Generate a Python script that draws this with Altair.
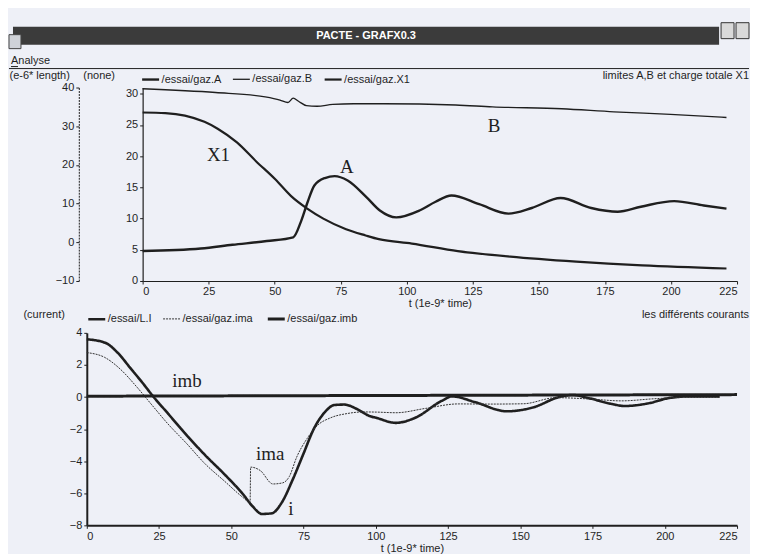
import altair as alt
import pandas as pd

top_series = ["/essai/gaz.A", "/essai/gaz.B", "/essai/gaz.X1"]
A_t = [0, 22, 34, 47, 57, 60, 62.5, 65, 69, 72.7, 77.6, 84.8, 89.8, 96, 104.8, 110.9,
       116.9, 127.4, 138.5, 147.3, 158.2, 169.8, 179.8, 188.6, 201.2, 212.4, 221]
A_v = [4.8, 5.2, 5.8, 6.4, 7.0, 9.6, 12.7, 15.3, 16.5, 16.8, 16.1, 13.4, 11.3, 10.2, 11.3, 12.7,
       13.7, 12.3, 10.8, 11.7, 13.3, 11.7, 11.1, 11.9, 12.8, 12.1, 11.6]
B_t = [0, 27.6, 46.4, 52, 55, 57, 59, 62, 66, 72, 79.9, 91.2, 118.5, 132.4, 158.6, 178.4, 199.8, 221]
B_v = [30.8, 30.2, 29.5, 29.0, 28.6, 29.3, 28.8, 28.1, 28.0, 28.3, 28.4, 28.4, 28.2, 27.9, 27.6,
       27.1, 26.7, 26.2]
X1_t = [0, 8.6, 16, 23.4, 28.4, 35.7, 42.9, 50.2, 56.2, 62.3, 68.4, 77, 84.4, 89.4, 101.9,
        119.3, 139.2, 164.1, 189.1, 221]
X1_v = [27.0, 26.9, 26.5, 25.5, 24.4, 22.2, 19.2, 16.3, 13.6, 11.6, 10.0, 8.3, 7.3, 6.7, 6.0,
        4.8, 3.9, 3.1, 2.5, 2.0]

bot_series = ["/essai/L.I", "/essai/gaz.ima", "/essai/gaz.imb"]
i_t = [0, 6.4, 10.8, 15.1, 19.4, 22.6, 28.1, 34.6, 41.1, 47.6, 54.1, 57.3, 60.6, 64, 67.5, 71.2,
       74.9, 78.6, 82.2, 85.7, 89.1, 93.5, 97.9, 100.2, 106.9, 113.7, 122.8, 126.4, 134.2, 145.3,
       154.4, 163.5, 168.1, 173.7, 181.6, 186, 193.9, 201.9, 208.7, 219]
i_v = [3.6, 3.38, 2.74, 1.80, 0.86, 0.12, -1.03, -2.39, -3.65, -4.81, -6.07, -6.80, -7.29, -7.25,
       -6.57, -5.17, -3.57, -1.97, -0.98, -0.50, -0.47, -0.75, -1.19, -1.30, -1.61, -1.29, -0.24,
       0.04, -0.31, -0.89, -0.65, 0.0, 0.13, -0.07, -0.43, -0.56, -0.41, -0.05, 0.04, 0.04]
ima_t = [0, 6.2, 11.7, 17.1, 22.5, 27.9, 34.5, 40.9, 47.5, 54.1, 56.5, 56.7, 60, 64.4, 67.8, 70.1,
         72.6, 76.3, 79.8, 84.3, 90.1, 95.7, 100.2, 107, 117.2, 128.5, 139.8, 151.1, 162.4, 173.7,
         185, 196.2, 207.6, 219]
ima_v = [2.77, 2.47, 1.72, 0.67, -0.49, -1.64, -2.89, -4.16, -5.22, -6.27, -6.59, -4.37, -4.58,
         -5.42, -5.35, -4.95, -3.76, -2.57, -1.77, -1.30, -1.03, -0.93, -0.94, -0.98, -0.71, -0.43,
         -0.44, -0.42, -0.04, -0.12, -0.24, -0.11, -0.02, -0.02]
imb_t = [0, 225]
imb_v = [0.05, 0.15]

top_labels = ["X1", "A", "B"]
top_label_t = [28.7, 77.3, 133]
top_label_v = [20.2, 18.2, 24.9]
bot_labels = ["imb", "ima", "i"]
bot_label_t = [34.7, 63.5, 70.6]
bot_label_v = [1.0, -3.57, -6.97]

x_ticks = list(range(0, 226, 25))
top_y_ticks = [0, 5, 10, 15, 20, 25, 30]
extra_y_ticks = [-10, 0, 10, 20, 30, 40]
bot_y_ticks = [-8, -6, -4, -2, 0, 2, 4]

# ---------------- styling ----------------
BG = "#eef0f7"
INK = "#1f1f1f"
UI = "Liberation Sans"
SERIF = "Liberation Serif"
PW = 652            # common panel width (bottom plot width)
TOP_SHIFT = 56      # top plot starts this far right of the bottom plot
TOP_H, BOT_H = 194, 193


def long_df(parts):
    rows = []
    for name, ts, vs in parts:
        for t, v in zip(ts, vs):
            rows.append({"series": name, "t": t, "v": v})
    return pd.DataFrame(rows)


top_df = long_df([(top_series[0], A_t, A_v), (top_series[1], B_t, B_v), (top_series[2], X1_t, X1_v)])
bot_df = long_df([(bot_series[0], i_t, i_v), (bot_series[1], ima_t, ima_v), (bot_series[2], imb_t, imb_v)])
top_lab_df = pd.DataFrame({"label": top_labels, "t": top_label_t, "v": top_label_v})
bot_lab_df = pd.DataFrame({"label": bot_labels, "t": bot_label_t, "v": bot_label_v})
one = pd.DataFrame({"k": [0]})

# ---------------- header (window chrome) ----------------
hdr_title = pd.DataFrame({"label": ["PACTE - GRAFX0.3"]})
header = alt.layer(
    alt.Chart(one).mark_rect(color="#3b3b3b").encode(
        x=alt.value(-74), x2=alt.value(634), y=alt.value(18), y2=alt.value(36)),
    alt.Chart(hdr_title).mark_text(color="white", font=UI, fontSize=11, fontWeight="bold").encode(
        x=alt.value(280), y=alt.value(27), text="label:N"),
    alt.Chart(one).mark_rect(fill="#d9d9d9", stroke="#333333", strokeWidth=1).encode(
        x=alt.value(636), x2=alt.value(649), y=alt.value(14), y2=alt.value(30)),
    alt.Chart(one).mark_rect(fill="#d9d9d9", stroke="#333333", strokeWidth=1).encode(
        x=alt.value(651), x2=alt.value(664), y=alt.value(14), y2=alt.value(30)),
    alt.Chart(one).mark_rect(fill="#cfd2d8", stroke="#444444", strokeWidth=1).encode(
        x=alt.value(-78), x2=alt.value(-66), y=alt.value(26), y2=alt.value(40)),
    alt.Chart(pd.DataFrame({"label": ["Analyse"]})).mark_text(
        align="left", baseline="middle", font=UI, fontSize=11, color=INK).encode(
        x=alt.value(-76), y=alt.value(52), text="label:N"),
    alt.Chart(one).mark_rule(color=INK, strokeWidth=1).encode(
        x=alt.value(-76), x2=alt.value(-69), y=alt.value(58)),
    alt.Chart(one).mark_rule(color=INK, strokeWidth=1).encode(
        x=alt.value(-78), x2=alt.value(664), y=alt.value(60)),
).properties(width=PW, height=60)

# ---------------- top panel ----------------
top_legend = alt.Legend(orient="none", legendX=TOP_SHIFT - 2, legendY=-18, direction="horizontal",
                        columns=3, title=None, symbolType="stroke", symbolSize=289, labelFont=UI,
                        labelFontSize=11, labelColor=INK, columnPadding=8, labelOffset=1, padding=0)

top_xscale = alt.Scale(domain=[0, 225], range=[TOP_SHIFT, PW], nice=False, zero=False)
top_xaxis = alt.Axis(values=x_ticks, title="t (1e-9* time)", tickSize=3, labelPadding=2,
                     titlePadding=1, domainWidth=1.2, titleX=(TOP_SHIFT + PW) / 2)

top_lines = alt.Chart(top_df).mark_line(interpolate="monotone").encode(
    x=alt.X("t:Q", scale=top_xscale, axis=top_xaxis),
    y=alt.Y("v:Q", scale=alt.Scale(domain=[0, 31], nice=False, zero=False),
            axis=alt.Axis(values=top_y_ticks, title="(none)", titleAngle=0, titleAlign="left",
                          titleBaseline="middle", titleX=-60, titleY=-12, tickSize=3,
                          domainWidth=1.2, offset=-TOP_SHIFT, labelOverlap=False)),
    stroke=alt.Stroke("series:N", scale=alt.Scale(domain=top_series, range=[INK, INK, INK]),
                      legend=top_legend),
    strokeWidth=alt.StrokeWidth("series:N",
                                scale=alt.Scale(type="ordinal", domain=top_series, range=[2.4, 1.3, 2.2]),
                                legend=top_legend),
    detail="series:N",
)

extra_axis = alt.Chart(pd.DataFrame({"v": [-10, 40]})).mark_point(opacity=0).encode(
    y=alt.Y("v:Q", scale=alt.Scale(domain=[-10, 40], nice=False, zero=False),
            axis=alt.Axis(orient="left", offset=8, values=extra_y_ticks, title="(e-6* length)",
                          titleAngle=0, titleAlign="left", titleBaseline="middle", titleX=-70,
                          titleY=-12, tickSize=3, domainWidth=1, domainDash=[2, 1],
                          labelOverlap=False)),
)

top_text = alt.Chart(top_lab_df).mark_text(font=SERIF, fontSize=19, color=INK).encode(
    x=alt.X("t:Q", scale=top_xscale, axis=top_xaxis),
    y=alt.Y("v:Q", scale=alt.Scale(domain=[0, 31], nice=False, zero=False), axis=None),
    text="label:N",
)

top_title = alt.Chart(pd.DataFrame({"label": ["limites A,B et charge totale X1"]})).mark_text(
    align="right", baseline="middle", font=UI, fontSize=11, color=INK).encode(
    x=alt.value(664), y=alt.value(-12), text="label:N")

top_panel = alt.layer(top_lines, extra_axis, top_text, top_title).resolve_scale(
    y="independent").properties(width=PW, height=TOP_H)

# ---------------- bottom panel ----------------
bot_legend = alt.Legend(orient="none", legendX=0, legendY=-24, direction="horizontal", columns=3,
                        title=None, symbolType="stroke", symbolSize=289, labelFont=UI,
                        labelFontSize=11, labelColor=INK, columnPadding=8, labelOffset=1, padding=0)

bot_xscale = alt.Scale(domain=[0, 225], nice=False, zero=False)
bot_yscale = alt.Scale(domain=[-8, 4], nice=False, zero=False)
bot_xaxis = alt.Axis(values=x_ticks, title="t (1e-9* time)", tickSize=3, labelPadding=2,
                     titlePadding=1, domainWidth=2)
bot_yaxis = alt.Axis(values=bot_y_ticks, title="(current)", titleAngle=0, titleAlign="left",
                     titleBaseline="middle", titleX=-64, titleY=-18, tickSize=3,
                     domainWidth=2, labelOverlap=False)

bot_lines = alt.Chart(bot_df).mark_line(interpolate="monotone").encode(
    x=alt.X("t:Q", scale=bot_xscale, axis=bot_xaxis),
    y=alt.Y("v:Q", scale=bot_yscale, axis=bot_yaxis),
    stroke=alt.Stroke("series:N", scale=alt.Scale(domain=bot_series, range=[INK, "#333333", INK]),
                      legend=bot_legend),
    strokeWidth=alt.StrokeWidth("series:N",
                                scale=alt.Scale(type="ordinal", domain=bot_series, range=[2.6, 1.0, 3.0]),
                                legend=bot_legend),
    strokeDash=alt.StrokeDash("series:N",
                              scale=alt.Scale(type="ordinal", domain=bot_series, range=[[1, 0], [2, 1], [1, 0]]),
                              legend=bot_legend),
    detail="series:N",
)

bot_text = alt.Chart(bot_lab_df).mark_text(font=SERIF, fontSize=19, color=INK).encode(
    x=alt.X("t:Q", scale=bot_xscale, axis=bot_xaxis),
    y=alt.Y("v:Q", scale=bot_yscale, axis=bot_yaxis),
    text="label:N")

bot_title = alt.Chart(pd.DataFrame({"label": ["les différents courants"]})).mark_text(
    align="right", baseline="middle", font=UI, fontSize=11, color=INK).encode(
    x=alt.value(664), y=alt.value(-18), text="label:N")

bot_panel = alt.layer(bot_lines, bot_text, bot_title).properties(width=PW, height=BOT_H)

chart = alt.vconcat(header, top_panel, bot_panel, spacing=0).resolve_scale(
    stroke="independent", strokeWidth="independent", strokeDash="independent"
).resolve_legend(
    stroke="independent", strokeWidth="independent", strokeDash="independent"
).properties(
    padding=0, background=BG
).configure_view(stroke=None).configure_axis(
    grid=False, labelFont=UI, titleFont=UI, labelFontSize=11, titleFontSize=11,
    titleFontWeight="normal", labelColor=INK, titleColor=INK, domainColor=INK, tickColor=INK
)

chart.save("out.html", embed_options={"renderer": "svg", "actions": False})
